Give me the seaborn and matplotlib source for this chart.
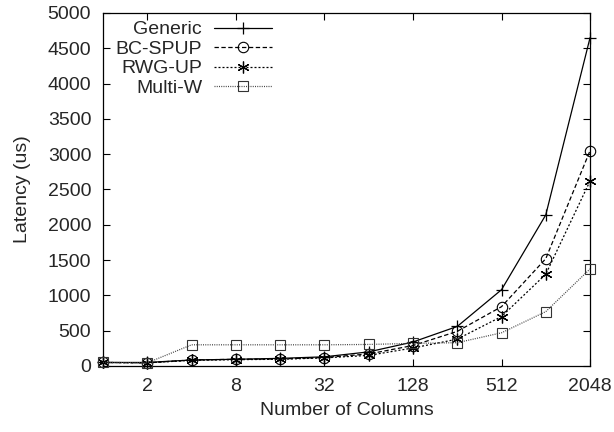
import matplotlib
matplotlib.use("Agg")
import matplotlib.pyplot as plt
import seaborn as sns
import pandas as pd

columns = [1, 2, 4, 8, 16, 32, 64, 128, 256, 512, 1024, 2048]
generic = [50, 50, 85, 95, 108, 130, 200, 340, 560, 1080, 2140, 4650]
bc_spup = [50, 45, 85, 95, 100, 120, 170, 290, 490, 840, 1520, 3050]
rwg_up = [50, 45, 80, 90, 95, 115, 150, 255, 380, 700, 1300, 2620]
multi_w = [50, 45, 300, 300, 300, 300, 305, 320, 330, 470, 770, 1375]

series_names = ["Generic", "BC-SPUP", "RWG-UP", "Multi-W"]
series_values = [generic, bc_spup, rwg_up, multi_w]
x_ticks = [2, 8, 32, 128, 512, 2048]
y_ticks = list(range(0, 5001, 500))

sns.set_style("ticks")
plt.rcParams['font.family'] = ['Liberation Sans', 'DejaVu Sans']
FS = 14

fig = plt.figure(figsize=(6.14, 4.32), dpi=100)
ax = fig.add_axes([0.1678, 0.1528, 0.961 - 0.1678, 0.970 - 0.1528])

styles = {
    "Generic": dict(color="black", linestyle="-", marker="+", ms=8, mew=0.9),
    "BC-SPUP": dict(color="black", linestyle=(0, (3.5, 2)), marker="o", ms=7.5, mew=0.8, mfc="none"),
    "RWG-UP": dict(color="black", linestyle=(0, (1.6, 1.6)), marker=(6, 2, 0), ms=8.5, mew=0.9),
    "Multi-W": dict(color="#444444", linestyle=(0, (0.8, 1.0)), marker="s", ms=7.5, mew=0.8, mfc="none", mec="#333333"),
}

for name, vals in zip(series_names, series_values):
    df = pd.DataFrame({"Number of Columns": columns, "Latency": vals})
    st = styles[name]
    sns.lineplot(data=df, x="Number of Columns", y="Latency", ax=ax, label=name,
                 color=st["color"], linewidth=0.9, errorbar=None)
    line = ax.lines[-1]
    line.set_linestyle(st["linestyle"])
    line.set_marker(st["marker"])
    line.set_markersize(st["ms"])
    line.set_markeredgewidth(st["mew"])
    line.set_markeredgecolor(st.get("mec", "black"))
    line.set_markerfacecolor(st.get("mfc", "black"))
    line.set_clip_on(False)
    line.set_zorder(3)

ax.set_xscale("log", base=2)
ax.set_xlim(1, 2048)
ax.set_ylim(0, 5000)
ax.set_xticks(x_ticks)
ax.set_xticklabels([str(t) for t in x_ticks])
ax.minorticks_off()
ax.set_yticks(y_ticks)
ax.set_yticklabels([str(t) for t in y_ticks])
ax.tick_params(direction="in", length=5, width=0.8, top=True, right=True,
               labelsize=FS, color="black")
ax.tick_params(axis="y", pad=8.5)
ax.tick_params(axis="x", pad=9)
for sp in ax.spines.values():
    sp.set_visible(True)
    sp.set_linewidth(0.9)
    sp.set_color("black")

ax.set_xlabel("Number of Columns", fontsize=FS, labelpad=5)
ax.set_ylabel("Latency (us)", fontsize=FS, labelpad=12)

leg = ax.legend(loc="upper right", bbox_to_anchor=(0.363, 1.0), frameon=False,
                markerfirst=False, handlelength=3.0, labelspacing=0.1,
                borderaxespad=0, handletextpad=0.6, fontsize=FS)

fig.savefig("out.png", dpi=100)
